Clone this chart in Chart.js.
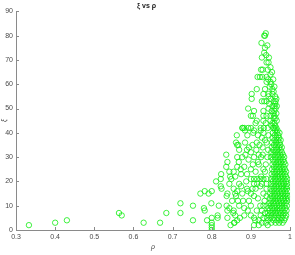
<!DOCTYPE html>
<html>
<head>
<meta charset="utf-8">
<script src="https://cdn.jsdelivr.net/npm/chart.js@4.4.1/dist/chart.umd.min.js"></script>
<style>
  html, body { margin: 0; padding: 0; background: #fff; }
  #wrap { width: 295px; height: 255px; position: relative; }
</style>
</head>
<body>
<div id="wrap"><canvas id="c" width="295" height="255"></canvas></div>
<script>
// ---- Data (rho, xi) ----
const titleText = "ξ vs ρ";
const xLabel = "ρ";
const yLabel = "ξ";
const xTicks = [0.3, 0.4, 0.5, 0.6, 0.7, 0.8, 0.9, 1];
const yTicks = [0, 10, 20, 30, 40, 50, 60, 70, 80, 90];

// sparse low-rho points
const sparsePoints = [
  [0.333,2],[0.40,3],[0.43,4],[0.563,7],[0.57,6],[0.626,3],[0.668,3],[0.684,7],
  [0.72,11],[0.72,7],[0.752,10],[0.752,4],[0.771,15],[0.782,16],[0.792,15],[0.80,16],
  [0.78,9],[0.782,8],[0.799,11],[0.788,4],[0.80,0],[0.80,1],[0.80,2],[0.80,3],[0.80,5],
  [0.815,5],[0.815,6],[0.818,10],[0.811,20],[0.824,23],[0.825,17],[0.823,21],[0.823,18],
  [0.837,31],[0.837,26],[0.838,14],[0.838,10],[0.84,15],[0.84,8],[0.84,5],[0.847,22],
  [0.848,2],[0.856,24],[0.856,17],[0.86,15],[0.856,8],[0.855,7],[0.858,3],[0.85,21],
  [0.845,19],[0.852,12],[0.845,9],[0.86,6],[0.865,4],[0.857,3]
];

// points of the upper plume (xi >= 42)
const upperPoints = [
  [0.938,81],[0.936,80],[0.934,80],[0.942,76],[0.927,77],[0.936,75],[0.934,73],[0.939,72],
  [0.928,71],[0.94,69],[0.945,69],[0.95,67],[0.926,66],[0.93,66],[0.917,63],[0.923,63],
  [0.929,63],[0.94,63],[0.944,62],[0.95,64],[0.95,61],[0.94,61],[0.952,60],[0.915,58],
  [0.936,58],[0.948,59],[0.955,58],[0.902,56],[0.902,54],[0.932,56],[0.945,56],[0.955,56],
  [0.928,53],[0.934,53],[0.94,53],[0.945,55],[0.95,54],[0.958,53],[0.963,53],[0.955,51],
  [0.96,51],[0.893,50],[0.908,49],[0.932,49],[0.953,49],[0.96,49],[0.963,50],[0.9,47],
  [0.905,47],[0.915,45],[0.932,47],[0.94,47],[0.95,47],[0.96,47],[0.963,46],[0.912,44],
  [0.932,45],[0.938,44],[0.955,44],[0.96,44],[0.878,42],[0.883,42],[0.893,42],[0.925,42],
  [0.933,42],[0.943,42],[0.96,42],[0.95,45],[0.945,50],[0.947,52],
  [0.958,57],[0.962,55],[0.957,48],[0.965,48],[0.962,52],[0.966,51],[0.958,46],[0.966,45],
  [0.962,43],[0.952,43],[0.957,62],[0.954,65],[0.943,66],[0.946,71],[0.96,59],[0.965,54]
];

// scattered middle points
const midPoints = [
  [0.862,36],[0.865,35],[0.864,39],[0.868,35],[0.865,26],[0.869,28],[0.865,16],
  [0.862,14],[0.867,12],[0.879,42],[0.883,26],[0.885,41],[0.875,18],[0.878,15],[0.88,12],
  [0.883,9],[0.883,6],[0.87,19],[0.875,23],[0.872,5],[0.89,17],[0.888,20],[0.87,10],
  [0.874,25],[0.878,30],[0.86,22],[0.865,30],[0.845,24],
  [0.84,28],[0.9,42],[0.908,41],[0.925,41],[0.932,40],[0.918,39],[0.928,38],
  [0.936,37],[0.904,35],[0.914,33],[0.93,34],[0.926,30],[0.908,30],[0.895,34],
  [0.92,27],[0.932,25],[0.936,24],[0.926,22],[0.891,39],[0.906,40],
  [0.9,32],[0.894,29],[0.9,21],[0.908,21],[0.916,21],[0.924,21],[0.932,21],
  [0.94,21],[0.908,19],[0.916,19],[0.928,19],[0.94,19],[0.904,17],[0.912,17],[0.924,18],
  [0.892,16],[0.9,15],[0.908,14],[0.932,15],[0.924,10],[0.932,10],[0.94,10],
  [0.928,8],[0.936,7],[0.9,10],[0.892,8],[0.9,6],[0.908,5],[0.92,4],[0.928,3],[0.908,2],
  [0.92,2],[0.943,2],[0.911,4],[0.935,12],[0.94,14],[0.94,17],[0.938,27],[0.942,30],
  [0.944,33],[0.94,36],[0.945,39],[0.92,31],[0.912,24],[0.9,25],[0.89,23],[0.918,13],
  [0.925,6],[0.915,8],[0.932,5],[0.895,12],
  [0.885,36],[0.89,33],[0.905,27],[0.915,36],[0.922,35],[0.93,31],[0.918,28],[0.886,31],[0.87,33]
];

// dense core: one row per integer xi, listing rho values
const coreXi = [3,4,5,6,7,8,9,10,11,12,13,14,15,16,17,18,19,20,21,22,23,24,25,26,27,28,29,30,31,32,33,34,35,36,37,38,39,40,41,42];
const coreRho = [
  [0.938,0.952,0.963,0.972,0.981],
  [0.944,0.958,0.967,0.976,0.985],
  [0.941,0.95,0.96,0.97,0.979,0.988],
  [0.946,0.955,0.964,0.973,0.982,0.99],
  [0.943,0.952,0.961,0.969,0.977,0.986],
  [0.948,0.957,0.966,0.974,0.983,0.991],
  [0.945,0.954,0.962,0.971,0.979,0.988],
  [0.95,0.959,0.967,0.975,0.984,0.992],
  [0.947,0.956,0.964,0.972,0.98,0.989],
  [0.952,0.961,0.969,0.977,0.985,0.993],
  [0.948,0.957,0.966,0.974,0.982,0.99,0.996],
  [0.953,0.962,0.97,0.978,0.987,0.994],
  [0.949,0.958,0.967,0.975,0.983,0.991],
  [0.954,0.963,0.971,0.979,0.988,0.995],
  [0.95,0.959,0.968,0.976,0.984,0.992],
  [0.955,0.964,0.972,0.98,0.989,0.994],
  [0.951,0.96,0.969,0.977,0.985,0.993],
  [0.956,0.965,0.973,0.981,0.99],
  [0.952,0.961,0.97,0.978,0.986,0.993],
  [0.957,0.966,0.974,0.982,0.99],
  [0.953,0.962,0.971,0.979,0.987],
  [0.958,0.967,0.975,0.983,0.99],
  [0.954,0.963,0.972,0.98,0.987],
  [0.959,0.968,0.976,0.984],
  [0.955,0.964,0.973,0.981,0.988],
  [0.96,0.969,0.977,0.985],
  [0.956,0.965,0.974,0.982],
  [0.951,0.961,0.97,0.978,0.985],
  [0.957,0.966,0.975,0.982],
  [0.952,0.962,0.971,0.979],
  [0.958,0.967,0.976],
  [0.953,0.963,0.972,0.979],
  [0.959,0.968,0.975],
  [0.954,0.964,0.973],
  [0.96,0.969,0.976],
  [0.955,0.965,0.972],
  [0.961,0.97],
  [0.956,0.966,0.973],
  [0.962,0.968],
  [0.957,0.965]
];

// ---- Build dataset ----
const points = [];
[sparsePoints, upperPoints, midPoints].forEach(arr => arr.forEach(p => points.push({x: p[0], y: p[1]})));
coreXi.forEach((xi, i) => coreRho[i].forEach(r => points.push({x: r, y: xi})));

const axisColor = '#8a8a8a';
const textColor = '#4a4a4a';
const fontFamily = "'Liberation Sans', Arial, sans-serif";

const inwardTicks = {
  id: 'inwardTicks',
  afterDraw(chart) {
    const ctx = chart.ctx;
    const xs = chart.scales.x, ys = chart.scales.y;
    const a = chart.chartArea;
    ctx.save();
    ctx.strokeStyle = axisColor;
    ctx.lineWidth = 1;
    ctx.beginPath();
    xTicks.forEach(v => {
      const px = Math.round(xs.getPixelForValue(v)) + 0.5;
      ctx.moveTo(px, a.bottom); ctx.lineTo(px, a.bottom - 3);
    });
    yTicks.forEach(v => {
      const py = Math.round(ys.getPixelForValue(v)) + 0.5;
      ctx.moveTo(a.left, py); ctx.lineTo(a.left + 3, py);
    });
    ctx.stroke();
    ctx.restore();
  }
};

new Chart(document.getElementById('c'), {
  type: 'scatter',
  data: {
    datasets: [{
      data: points,
      showLine: false,
      pointStyle: 'circle',
      pointRadius: 2.7,
      pointBorderWidth: 0.8,
      borderColor: '#10ee10',
      backgroundColor: 'rgba(0,0,0,0)',
      pointBackgroundColor: 'rgba(0,0,0,0)'
    }]
  },
  options: {
    responsive: false,
    animation: false,
    devicePixelRatio: 1,
    layout: { padding: { left: 0, right: 2, top: 0, bottom: 4 } },
    plugins: {
      legend: { display: false },
      tooltip: { enabled: false },
      title: {
        display: true,
        text: titleText,
        color: '#222',
        font: { family: fontFamily, size: 7, weight: 'bold' },
        padding: { top: 2, bottom: 1 }
      }
    },
    scales: {
      x: {
        type: 'linear',
        min: 0.3, max: 1,
        afterBuildTicks(scale) { scale.ticks = xTicks.map(v => ({ value: v })); },
        afterFit(scale) { scale.height = 21; },
        ticks: {
          color: textColor,
          font: { family: fontFamily, size: 7 },
          padding: 3,
          maxRotation: 0,
          callback: v => String(v)
        },
        grid: { display: false, drawTicks: false },
        border: { display: true, color: axisColor, width: 1 },
        title: {
          display: true, text: xLabel, color: textColor,
          font: { family: fontFamily, size: 7, style: 'italic' },
          padding: { top: 0, bottom: 0 }
        }
      },
      y: {
        type: 'linear',
        min: 0, max: 90,
        afterBuildTicks(scale) { scale.ticks = yTicks.map(v => ({ value: v })); },
        afterFit(scale) { scale.width = 16; },
        ticks: {
          color: textColor,
          font: { family: fontFamily, size: 7 },
          padding: 3
        },
        grid: { display: false, drawTicks: false },
        border: { display: true, color: axisColor, width: 1 },
        title: {
          display: true, text: yLabel, color: textColor,
          font: { family: fontFamily, size: 7, style: 'italic' },
          padding: { top: 0, bottom: 0 }
        }
      }
    }
  },
  plugins: [inwardTicks]
});
</script>
</body>
</html>
